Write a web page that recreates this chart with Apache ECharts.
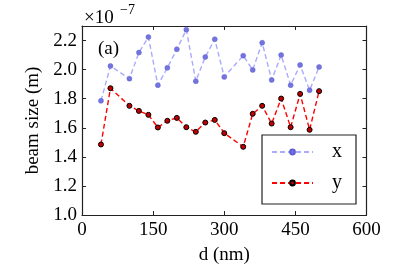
<!DOCTYPE html>
<html><head><meta charset="utf-8">
<script src="https://cdn.jsdelivr.net/npm/echarts@6/dist/echarts.min.js"></script>
<style>html,body{margin:0;padding:0;background:#fff}#c{width:407px;height:271px}</style>
</head><body><div id="c"></div>
<script>
// distance d (nm)
const dValues = [40,60,100,120,140,160,180,200,220,240,260,280,300,340,360,380,400,420,440,460,480,500];
// beam size (x 1e-7 m)
const beamX = [1.785,2.025,1.938,2.117,2.224,1.893,2.012,2.14,2.275,1.92,2.087,2.209,1.95,2.096,1.998,2.185,1.929,2.10,1.893,2.032,1.858,2.018];
const beamY = [1.485,1.872,1.751,1.716,1.689,1.602,1.648,1.668,1.604,1.572,1.636,1.654,1.563,1.469,1.696,1.751,1.629,1.801,1.604,1.833,1.586,1.852];
const xTicks = [0,150,300,450,600];
const yTicks = [1.0,1.2,1.4,1.6,1.8,2.0,2.2];
const yMax = 2.3;
const seriesNames = ['x','y'];

const FONT = "'Liberation Serif','DejaVu Serif',serif";
const chart = echarts.init(document.getElementById('c'), null, {renderer:'canvas'});
const frame = {show:true, onZero:false, lineStyle:{color:'#222', width:1.2}};
const tick = {show:true, inside:true, length:4, lineStyle:{color:'#222', width:1}};
const xAxisBase = {type:'value', min:xTicks[0], max:xTicks[xTicks.length-1], interval:xTicks[1]-xTicks[0], splitLine:{show:false}, axisLine:frame, axisTick:tick};
const yAxisBase = {type:'value', min:yTicks[0], max:yMax, interval:+(yTicks[1]-yTicks[0]).toFixed(2), splitLine:{show:false}, axisLine:frame, axisTick:tick};

const pairs = (ys) => dValues.map((d,i)=>[d, ys[i]]);

chart.setOption({
  animation:false,
  backgroundColor:'#fff',
  grid:{left:82, top:26, right:40.5, bottom:56, containLabel:false},
  xAxis:[
    Object.assign({}, xAxisBase, {position:'bottom', name:'d (nm)', nameLocation:'middle', nameGap:31,
      nameTextStyle:{fontFamily:FONT, fontSize:19, color:'#000'},
      axisLabel:{fontFamily:FONT, fontSize:19, color:'#000', margin:6}}),
    Object.assign({}, xAxisBase, {position:'top', axisLabel:{show:false}})
  ],
  yAxis:[
    Object.assign({}, yAxisBase, {position:'left', name:'beam size (m)', nameLocation:'middle', nameGap:39,
      nameTextStyle:{fontFamily:FONT, fontSize:19, color:'#000'},
      axisLabel:{fontFamily:FONT, fontSize:19, color:'#000', margin:5, showMaxLabel:false, formatter:v=>v.toFixed(1)}}),
    Object.assign({}, yAxisBase, {position:'right', axisLabel:{show:false}})
  ],
  legend:{
    orient:'vertical', left:262, top:135,
    data:seriesNames,
    backgroundColor:'#fff', borderColor:'#222', borderWidth:1.2,
    padding:[7,14,11,9], itemGap:11, itemWidth:41, itemHeight:6,
    textStyle:{fontFamily:FONT, fontSize:20, color:'#000', padding:[0,0,0,14]}
  },
  graphic:[
    {type:'text', x:84, y:18, style:{text:'×10', font:'19px '+FONT, fill:'#000', verticalAlign:'middle', align:'left'}},
    {type:'text', x:120, y:10, style:{text:'−7', font:'14px '+FONT, fill:'#000', verticalAlign:'middle', align:'left'}},
    {type:'text', x:98, y:49, style:{text:'(a)', font:'19px '+FONT, fill:'#000', verticalAlign:'middle', align:'left'}}
  ],
  series:[
    {name:seriesNames[0], type:'line', data:pairs(beamX), symbol:'circle', symbolSize:5,
      lineStyle:{color:'#aaaaff', width:1.4, type:[5,3]},
      itemStyle:{color:'#7474e0', borderColor:'#6060d0', borderWidth:0.5}},
    {name:seriesNames[1], type:'line', data:pairs(beamY), symbol:'circle', symbolSize:5,
      lineStyle:{color:'#ff0000', width:1.4, type:[5,3]},
      itemStyle:{color:'#c00000', borderColor:'#000', borderWidth:1}}
  ]
});
</script>
</body></html>
